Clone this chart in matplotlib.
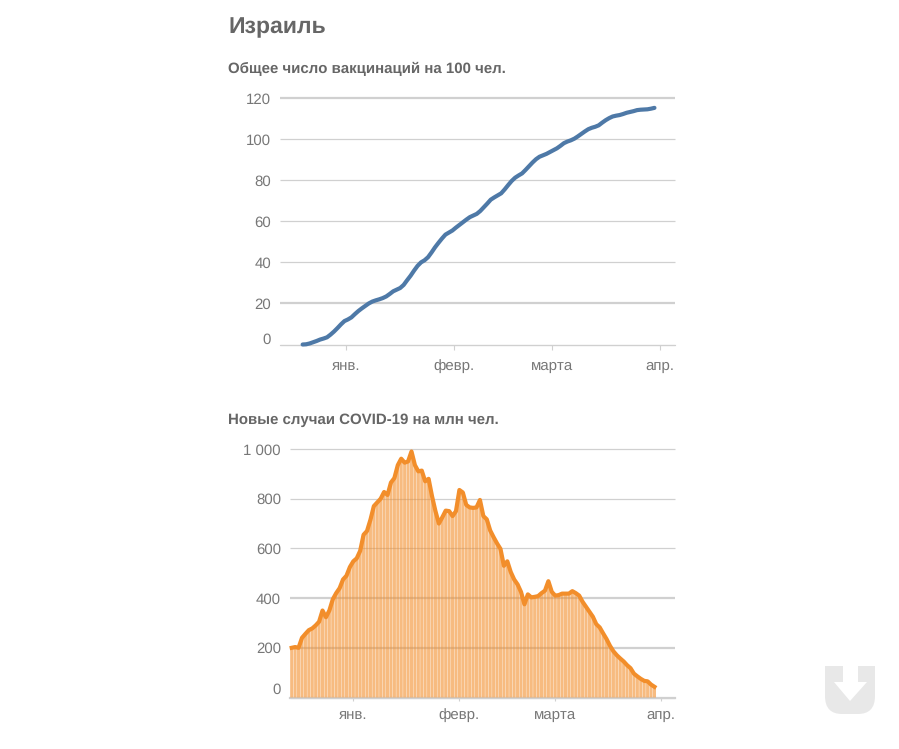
import numpy as np
import matplotlib
matplotlib.use('Agg')
import matplotlib.pyplot as plt
from matplotlib.patches import Polygon, PathPatch
from matplotlib.path import Path

plt.rcParams['font.family'] = ['Liberation Sans', 'DejaVu Sans']
plt.rcParams['text.hinting'] = 'no_hinting'
plt.rcParams['text.hinting_factor'] = 1

W = 899
H = 749

# дни считаем от 1 января
tick_days = [0, 31, 59, 90]
tick_names = ['янв.', 'февр.', 'марта', 'апр.']

vacc_start = -12.5
vacc = [0, 0.1, 0.5, 1.1, 1.7, 2.4, 2.9, 3.5, 4.8, 6.3, 8, 9.8, 11.4, 12.2, 13.2,
        14.8, 16.3, 17.6, 18.8, 20, 20.9, 21.5, 22, 22.6, 23.4, 24.6, 25.9, 26.7,
        27.5, 29, 31.3, 33.5, 36, 38.3, 40, 41, 42.5, 44.8, 47.3, 49.5, 51.6, 53.5,
        54.5, 55.5, 56.9, 58.2, 59.5, 60.8, 62, 62.8, 63.6, 65, 66.8, 68.6, 70.5,
        71.6, 72.6, 73.6, 75.5, 77.6, 79.6, 81.2, 82.3, 83.3, 85, 86.8, 88.6, 90.2,
        91.4, 92.1, 92.8, 93.7, 94.6, 95.5, 96.7, 98, 98.8, 99.4, 100.2, 101.3,
        102.5, 103.7, 104.8, 105.5, 106, 106.7, 108, 109.2, 110.2, 111, 111.4,
        111.7, 112.2, 112.8, 113.2, 113.6, 114.1, 114.3, 114.4, 114.5, 114.8, 115.2]

cases_start = -18
cases = [200, 203, 200, 240, 256, 271, 278, 290, 305, 350, 323, 350, 395, 420, 440,
         475, 490, 525, 548, 560, 590, 655, 670, 715, 770, 785, 800, 827, 815, 865,
         883, 935, 961, 945, 950, 990, 935, 910, 913, 870, 880, 810, 750, 700, 725,
         752, 750, 730, 750, 835, 825, 775, 765, 763, 765, 795, 730, 717, 672, 645,
         620, 598, 530, 548, 505, 475, 455, 425, 375, 415, 403, 405, 408, 420, 430,
         468, 425, 410, 412, 418, 418, 418, 428, 420, 410, 385, 365, 345, 325, 295,
         282, 258, 235, 208, 186, 170, 157, 145, 130, 118, 96, 85, 75, 67, 65, 52, 43]

vacc_ticks = [0, 20, 40, 60, 80, 100, 120]
cases_ticks = [0, 200, 400, 600, 800, 1000]
cases_labels = ['0', '200', '400', '600', '800', '1 000']

GREY = '#666666'
TICK = '#777777'
GRID = '#d0d0d0'


def px_axes(x0, y0, x1, y1):
    # y считается сверху, как на картинке
    return fig.add_axes([x0 / W, 1 - y1 / H, (x1 - x0) / W, (y1 - y0) / H])


def style(ax, yticks, ylabels, zero_shift, tick_len, xpad, thick):
    for s in ['top', 'right', 'left']:
        ax.spines[s].set_visible(False)
    ax.spines['bottom'].set_color(GRID)
    ax.set_axisbelow(True)
    ax.set_yticks(yticks)
    ax.set_yticklabels(ylabels, fontsize=10.7, color=TICK)
    ax.grid(axis='y', color=GRID, lw=0.9, clip_on=False, solid_capstyle='butt')
    ax.tick_params(axis='y', length=0, pad=6.5)
    ax.set_xticks(tick_days)
    ax.set_xticklabels(tick_names, fontsize=10.7, color=TICK)
    ax.tick_params(axis='x', length=tick_len, color=GRID, pad=xpad)
    # часть линий на оригинале выглядит толще
    for i in thick:
        ax.get_ygridlines()[i].set_linewidth(1.6)
    # подпись нуля стоит выше оси
    lab = ax.get_yticklabels()[0]
    lab.set_transform(lab.get_transform() + matplotlib.transforms.ScaledTranslation(0, zero_shift / 100, fig.dpi_scale_trans))


fig = plt.figure(figsize=(W / 100, H / 100), dpi=100, facecolor='white')

fig.text(228 / W, 1 - 27 / H, 'Израиль', fontsize=16.9, fontweight='bold', color=GREY, va='center')
fig.text(228 / W, 1 - 69 / H, 'Общее число вакцинаций на 100 чел.', fontsize=10.5,
         fontweight='bold', color=GREY, va='center')
fig.text(228 / W, 1 - 420 / H, 'Новые случаи COVID-19 на млн чел.', fontsize=10.5,
         fontweight='bold', color=GREY, va='center')

# верхний график
ax1 = px_axes(280, 98, 675, 344.5)
vacc_days = np.arange(len(vacc)) + vacc_start
ax1.plot(vacc_days, vacc, color='#4e79a7', lw=3.0, clip_on=False, solid_capstyle='round', zorder=5)
ax1.set_xlim(-19.0, 94.4)
ax1.set_ylim(0, 120)
style(ax1, vacc_ticks, [str(v) for v in vacc_ticks], 6, 3.5, 7, [1, 6])

# нижний график
ax2 = px_axes(290, 449, 675, 697.5)
cases_days = np.arange(len(cases)) + cases_start
bars = ax2.bar(cases_days, cases, width=0.9, color='#f28e2b', alpha=0.6, lw=0, zorder=3)
for b in bars:
    b.set_snap(False)
ax2.plot(cases_days, cases, color='#f28e2b', lw=3.0, clip_on=False, solid_joinstyle='round', zorder=5)
ax2.set_xlim(-18.5, 94)
ax2.set_ylim(0, 1000)
style(ax2, cases_ticks, cases_labels, 9, 2.5, 5, [1, 2])
ax2.spines['bottom'].set_linewidth(1.6)

# значок в правом нижнем углу
logo = fig.add_axes([0, 0, 1, 1], facecolor='none')
logo.set_xlim(0, W)
logo.set_ylim(H, 0)
logo.axis('off')
verts = [(825, 666), (875, 666), (875, 696), (875, 714), (858, 714), (842, 714),
         (825, 714), (825, 696), (825, 666), (825, 666)]
codes = [Path.MOVETO, Path.LINETO, Path.LINETO, Path.CURVE3, Path.CURVE3, Path.LINETO,
         Path.CURVE3, Path.CURVE3, Path.LINETO, Path.CLOSEPOLY]
logo.add_patch(PathPatch(Path(verts, codes), fc='#e8e8e8', ec='none'))
logo.add_patch(Polygon([(843, 666), (858, 666), (858, 682), (867, 682), (850, 701),
                        (834, 682), (843, 682)], fc='white', ec='none'))

fig.savefig('out.png', dpi=100)
